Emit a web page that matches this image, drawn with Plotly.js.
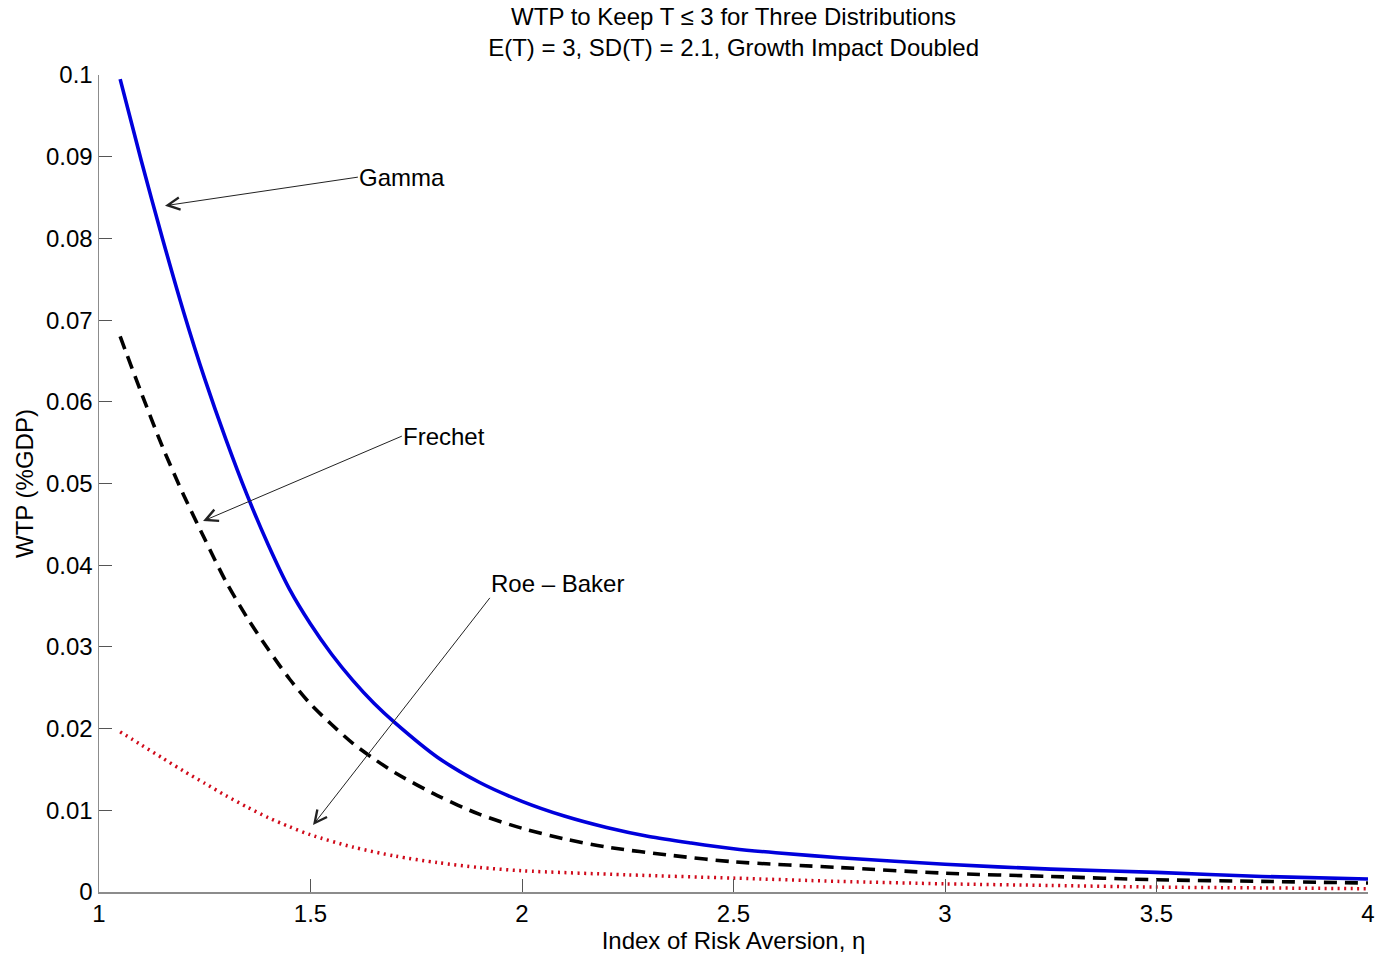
<!DOCTYPE html>
<html>
<head>
<meta charset="utf-8">
<script src="https://cdn.plot.ly/plotly-3.0.1.min.js"></script>
<style>
  html, body { margin: 0; padding: 0; background: #ffffff; }
  #chart { width: 1392px; height: 955px; }
</style>
</head>
<body>
<div id="chart"></div>
<script>
// ---- Data ----
const gammaX = [1.05, 1.10, 1.15, 1.20, 1.25, 1.30, 1.35, 1.40, 1.45, 1.50, 1.55, 1.60, 1.65, 1.70, 1.80, 1.90, 2.00, 2.10, 2.20, 2.30, 2.40, 2.50, 2.60, 2.75, 3.00, 3.25, 3.50, 3.75, 4.00];
const gammaY = [0.0995, 0.0895, 0.0800, 0.0710, 0.0628, 0.0554, 0.0486, 0.0425, 0.0371, 0.0328, 0.0291, 0.0259, 0.0231, 0.0207, 0.0165, 0.0134, 0.0111, 0.0093, 0.0079, 0.0068, 0.0060, 0.0053, 0.0048, 0.0042, 0.0034, 0.0028, 0.0024, 0.0019, 0.0016];

const frechetX = [1.05, 1.10, 1.15, 1.20, 1.25, 1.30, 1.35, 1.40, 1.45, 1.50, 1.55, 1.60, 1.65, 1.70, 1.80, 1.90, 2.00, 2.10, 2.20, 2.35, 2.50, 2.75, 3.00, 3.25, 3.50, 3.75, 4.00];
const frechetY = [0.0680, 0.0611, 0.0545, 0.0486, 0.0432, 0.0380, 0.0336, 0.0297, 0.0261, 0.0230, 0.0205, 0.0182, 0.0163, 0.0146, 0.0118, 0.0095, 0.0078, 0.0065, 0.0055, 0.0045, 0.0037, 0.0030, 0.0023, 0.0019, 0.0015, 0.0013, 0.0011];

const roeBakerX = [1.05, 1.10, 1.15, 1.20, 1.25, 1.30, 1.35, 1.40, 1.45, 1.50, 1.60, 1.70, 1.80, 1.90, 2.00, 2.25, 2.50, 2.75, 3.00, 3.25, 3.50, 3.75, 4.00];
const roeBakerY = [0.0196, 0.0180, 0.0164, 0.0148, 0.0133, 0.0118, 0.0104, 0.0091, 0.0080, 0.0070, 0.0055, 0.0044, 0.0036, 0.0030, 0.0026, 0.0021, 0.0017, 0.0013, 0.0010, 0.0008, 0.0006, 0.0005, 0.0004];

const xTickVals = [1, 1.5, 2, 2.5, 3, 3.5, 4];
const xTickText = ["1", "1.5", "2", "2.5", "3", "3.5", "4"];
const yTickVals = [0, 0.01, 0.02, 0.03, 0.04, 0.05, 0.06, 0.07, 0.08, 0.09, 0.1];
const yTickText = ["0", "0.01", "0.02", "0.03", "0.04", "0.05", "0.06", "0.07", "0.08", "0.09", "0.1"];

const seriesNames = ["Gamma", "Frechet", "Roe \u2013 Baker"];

const FONT = "Liberation Sans, Arial, Helvetica, sans-serif";

const traces = [
  {
    x: gammaX, y: gammaY, type: "scatter", mode: "lines", name: seriesNames[0],
    line: { color: "#0000dc", width: 3.6, shape: "spline", smoothing: 0.8 }
  },
  {
    x: frechetX, y: frechetY, type: "scatter", mode: "lines", name: seriesNames[1],
    line: { color: "#000000", width: 3.6, dash: "13px,8px", shape: "spline", smoothing: 0.8 }
  },
  {
    x: roeBakerX, y: roeBakerY, type: "scatter", mode: "lines", name: seriesNames[2],
    line: { color: "#d00a1a", width: 3.5, dash: "2px,4.5px", shape: "spline", smoothing: 0.8 }
  }
];

const arrowCommon = {
  showarrow: true, arrowhead: 5, arrowsize: 2.4, arrowwidth: 1, arrowcolor: "#222222",
  axref: "x", ayref: "y", xref: "x", yref: "y",
  font: { family: FONT, size: 24, color: "#000000" },
  borderpad: 0
};

const annotations = [
  Object.assign({}, arrowCommon, {
    text: seriesNames[0], x: 1.156, y: 0.0840, ax: 1.612, ay: 0.0875,
    xanchor: "left", yanchor: "middle"
  }),
  Object.assign({}, arrowCommon, {
    text: seriesNames[1], x: 1.246, y: 0.0454, ax: 1.716, ay: 0.0558,
    xanchor: "left", yanchor: "middle"
  }),
  Object.assign({}, arrowCommon, {
    text: seriesNames[2], x: 1.506, y: 0.0082, ax: 1.924, ay: 0.0360,
    xanchor: "left", yanchor: "bottom"
  })
];

const layout = {
  width: 1392, height: 955,
  paper_bgcolor: "#ffffff", plot_bgcolor: "#ffffff",
  font: { family: FONT, size: 24, color: "#000000" },
  showlegend: false,
  margin: { l: 99, r: 24, t: 75, b: 63, pad: 0 },
  title: {
    text: "WTP to Keep T \u2264 3 for Three Distributions<br>E(T) = 3, SD(T) = 2.1, Growth Impact Doubled",
    font: { family: FONT, size: 24, color: "#000000" },
    x: 0.527, xanchor: "center", y: 0.974, yanchor: "top"
  },
  xaxis: {
    range: [1, 4], tickmode: "array", tickvals: xTickVals, ticktext: xTickText,
    ticks: "inside", ticklen: 13, tickwidth: 1, tickcolor: "#555555",
    showline: true, linecolor: "#8c8c8c", linewidth: 1.5,
    showgrid: false, zeroline: false, mirror: false,
    tickfont: { family: FONT, size: 24, color: "#000000" },
    title: { text: "Index of Risk Aversion, \u03b7", font: { family: FONT, size: 24, color: "#000000" }, standoff: 0 },
    automargin: false
  },
  yaxis: {
    range: [0, 0.1], tickmode: "array", tickvals: yTickVals, ticktext: yTickText,
    ticks: "inside", ticklen: 13, tickwidth: 1, tickcolor: "#555555",
    showline: true, linecolor: "#8c8c8c", linewidth: 1.5,
    showgrid: false, zeroline: false, mirror: false,
    tickfont: { family: FONT, size: 24, color: "#000000" },
    title: { text: "WTP (%GDP)", font: { family: FONT, size: 24, color: "#000000" }, standoff: 5 },
    automargin: false
  },
  annotations: annotations
};

Plotly.newPlot("chart", traces, layout, { displayModeBar: false, staticPlot: true });
</script>
</body>
</html>
